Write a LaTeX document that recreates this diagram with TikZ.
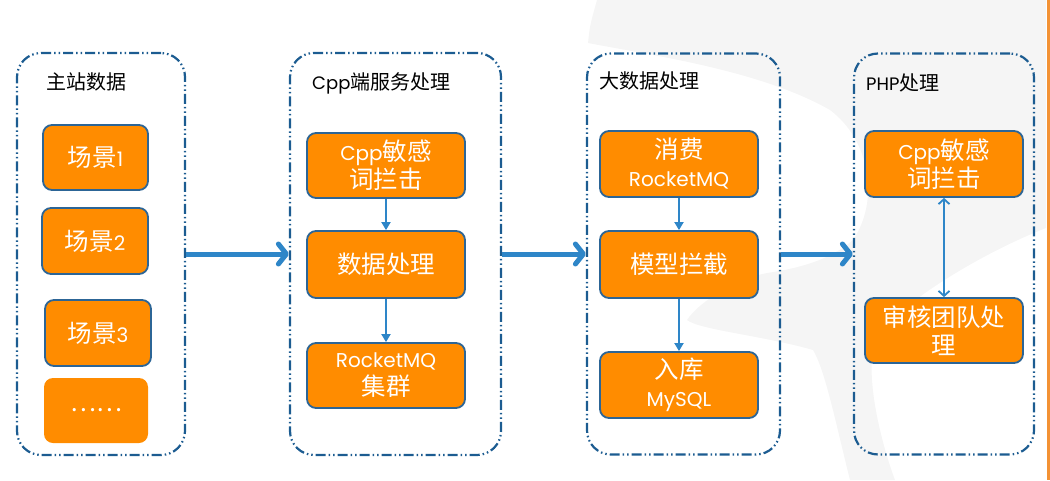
\documentclass[tikz,border=0pt]{standalone}
\usepackage{fontspec}
\setmainfont{Noto Sans CJK SC}
\newfontfamily\lat{Poppins}
\usepackage{xcolor}
\usetikzlibrary{arrows.meta}
\definecolor{orangeboite}{HTML}{FF8C00}
\definecolor{bordboite}{HTML}{2C6596}
\definecolor{bleucadre}{HTML}{1C5C91}
\definecolor{bleufleche}{HTML}{2E86C8}
\definecolor{fond}{HTML}{F5F5F5}
\definecolor{liseret}{HTML}{F39234}
\newcommand{\lb}[1]{{\fontsize{20}{28}\selectfont\lat #1}}
\newcommand{\lt}[1]{{\fontsize{18}{20}\selectfont\lat #1}}

\begin{document}
\begin{tikzpicture}[x=1pt, y=-1pt]
		\tikzstyle{cadre}=[draw=bleucadre, line width=2.2pt, rounded corners=24pt, dash pattern=on 10pt off 3pt on 1.5pt off 3pt on 1.5pt off 3pt, inner sep=0pt]
		\tikzstyle{boite}=[draw=bordboite, line width=1.8pt, fill=orangeboite, rounded corners=9pt, text=white, align=center, inner sep=0pt, font=\fontsize{24.5}{28}\selectfont]
		\tikzstyle{titre}=[anchor=west, inner sep=0pt, font=\fontsize{20}{22}\selectfont]
		\tikzstyle{fleche}=[-{Straight Barb[length=8pt,width=20pt,round]}, line width=5pt, color=bleufleche]
		\tikzstyle{flechefine}=[-{Triangle[length=8pt,width=9pt]}, line width=1.8pt, color=bleufleche]
		\tikzstyle{flechedouble}=[{Straight Barb[length=5pt,width=11pt]}-{Straight Barb[length=5pt,width=11pt]}, line width=1.8pt, color=bleufleche]
		\useasboundingbox (0,0) rectangle (1050,480);

		% filigrane
		\fill[color=fond] (597,0) -- (1046,0) -- (1046,228)
			.. controls (990,250) and (920,290) .. (880,330)
			.. controls (860,360) and (880,440) .. (895,480) -- (850,480)
			.. controls (835,420) and (825,370) .. (813,350)
			.. controls (760,335) and (700,330) .. (687,320)
			.. controls (700,300) and (740,278) .. (767,273)
			.. controls (800,268) and (830,260) .. (853,240)
			.. controls (880,200) and (870,140) .. (830,110)
			.. controls (760,70) and (650,55) .. (588,43)
			.. controls (590,25) .. (597,0) -- cycle;
		\fill[color=liseret] (1047,0) rectangle (1050,480);

		% cadres
		\node[cadre, minimum width=168pt, minimum height=402pt] (cadre1) at (101,254) {};
		\node[cadre, minimum width=211pt, minimum height=402pt] (cadre2) at (395.5,254) {};
		\node[cadre, minimum width=193pt, minimum height=401pt] (cadre3) at (683.5,254) {};
		\node[cadre, minimum width=180pt, minimum height=401pt] (cadre4) at (944,254) {};
		\node[titre] (titre1) at (46,82) {主站数据};
		\node[titre] (titre2) at (312,83) {\lt{Cpp}端服务处理};
		\node[titre] (titre3) at (599,81) {大数据处理};
		\node[titre] (titre4) at (866,83) {\lt{PHP}处理};

		% main station
		\node[boite, minimum width=105pt, minimum height=65pt] (s1) at (95.5,157.5) {场景\lb{1}};
		\node[boite, minimum width=106pt, minimum height=66pt] (s2) at (95,241) {场景\lb{2}};
		\node[boite, minimum width=106pt, minimum height=66pt] (s3) at (98,333) {场景\lb{3}};
		\node[boite, draw=none, minimum width=104pt, minimum height=65pt] (s4) at (96,410.5) {……};

		% cpp
		\node[boite, minimum width=158pt, minimum height=65pt] (cpp) at (386,165.5) {\lb{Cpp}敏感\\词拦击};
		\node[boite, minimum width=158pt, minimum height=67pt] (donnees) at (386,264.5) {数据处理};
		\node[boite, minimum width=158pt, minimum height=65pt] (rmq) at (386,375.5) {\lb{RocketMQ}\\集群};
		\draw[flechefine] (cpp) -- (donnees);
		\draw[flechefine] (donnees) -- (rmq);

		% big data
		\node[boite, minimum width=158pt, minimum height=66pt] (conso) at (679,164) {消费\\\lb{RocketMQ}};
		\node[boite, minimum width=158pt, minimum height=67pt] (modele) at (679,264.5) {模型拦截};
		\node[boite, minimum width=158pt, minimum height=66pt] (mysql) at (679,385) {入库\\\lb{MySQL}};
		\draw[flechefine] (conso) -- (modele);
		\draw[flechefine] (modele) -- (mysql);

		% php
		\node[boite, minimum width=158pt, minimum height=66pt] (cpp2) at (944,164) {\lb{Cpp}敏感\\词拦击};
		\node[boite, minimum width=158pt, minimum height=65pt] (audit) at (944,330.5) {审核团队处\\理};
		\draw[flechedouble] (cpp2) -- (audit);

		\draw[fleche] (cadre1) -- (cadre2);
		\draw[fleche] (cadre2) -- (cadre3);
		\draw[fleche] (cadre3) -- (cadre4);
	\end{tikzpicture}
\end{document}
